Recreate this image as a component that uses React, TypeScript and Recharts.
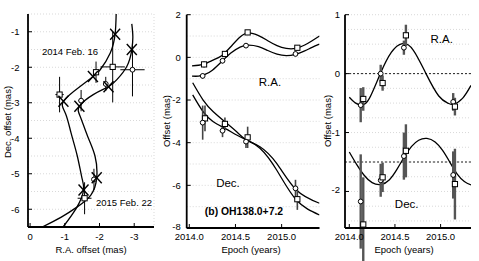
import { ComposedChart, Line, Scatter, XAxis, YAxis, CartesianGrid, ErrorBar, ReferenceLine } from 'recharts'

const FONT = '"Liberation Sans", Arial, Helvetica, sans-serif'

// ---------- left panel: positions on the sky (R.A. offset vs Dec. offset, mas)
const skyPathA = [
  { x: -2.48, y: -0.5 }, { x: -2.45, y: -1.06 }, { x: -2.31, y: -1.6 }, { x: -2.02, y: -2.07 },
  { x: -1.81, y: -2.27 }, { x: -1.44, y: -2.54 }, { x: -0.96, y: -2.96 }, { x: -1.02, y: -3.3 },
  { x: -1.18, y: -3.85 }, { x: -1.36, y: -4.5 }, { x: -1.49, y: -5.1 }, { x: -1.54, y: -5.46 },
  { x: -1.35, y: -5.94 }, { x: -0.95, y: -6.5 },
]
const skyPathB = [
  { x: -2.93, y: -0.78 }, { x: -2.96, y: -1.13 }, { x: -2.93, y: -1.51 }, { x: -2.79, y: -1.97 },
  { x: -2.5, y: -2.35 }, { x: -2.26, y: -2.55 }, { x: -1.82, y: -2.77 }, { x: -1.42, y: -3.1 },
  { x: -1.45, y: -3.4 }, { x: -1.66, y: -3.95 }, { x: -1.87, y: -4.5 }, { x: -1.92, y: -5.11 },
  { x: -1.75, y: -5.6 }, { x: -1.35, y: -5.94 }, { x: -0.9, y: -6.22 }, { x: -0.35, y: -6.5 },
]
const skySquares = [
  { x: -2.38, y: -1.99, ex: 0.35, ey: 1.0 },
  { x: -1.9, y: -2.14, ex: 0.08, ey: 0.3 },
  { x: -0.85, y: -2.77, ex: 0.12, ey: 0.5 },
  { x: -1.57, y: -5.69, ex: 0.2, ey: 0.45 },
]
const skyCircles = [
  { x: -2.95, y: -2.07, ex: 0.35, ey: 0.75 },
  { x: -2.18, y: -2.47, ex: 0.05, ey: 0.2 },
  { x: -1.47, y: -2.94, ex: 0.08, ey: 0.3 },
  { x: -1.84, y: -5.16, ex: 0.05, ey: 0.3 },
]
const skyCrosses = [
  { x: -2.45, y: -1.07 }, { x: -2.93, y: -1.5 }, { x: -1.81, y: -2.26 }, { x: -2.26, y: -2.55 },
  { x: -0.96, y: -2.96 }, { x: -1.42, y: -3.1 }, { x: -1.54, y: -5.46 }, { x: -1.92, y: -5.11 },
]
const skyXTicks = [0, -1, -2, -3]
const skyYTicks = [-6, -5, -4, -3, -2, -1]
const skyXMinor = [0, -0.5, -1, -1.5, -2, -2.5, -3, -3.5]
const skyYMinor = [-6.5, -6, -5.5, -5, -4.5, -4, -3.5, -3, -2.5, -2, -1.5, -1, -0.5]

// ---------- middle panel: offsets vs epoch with proper motion
const raFitSq = [
  { x: 2014.03, y: -0.4 }, { x: 2014.1, y: -0.37 }, { x: 2014.17, y: -0.3 }, { x: 2014.25, y: -0.14 },
  { x: 2014.35, y: 0.08 }, { x: 2014.45, y: 0.5 }, { x: 2014.55, y: 0.95 }, { x: 2014.64, y: 1.15 },
  { x: 2014.75, y: 1.02 }, { x: 2014.85, y: 0.78 }, { x: 2014.95, y: 0.55 }, { x: 2015.05, y: 0.42 },
  { x: 2015.15, y: 0.42 }, { x: 2015.25, y: 0.58 }, { x: 2015.33, y: 0.78 }, { x: 2015.41, y: 1.0 },
]
const raFitCi = [
  { x: 2014.03, y: -0.88 }, { x: 2014.1, y: -0.88 }, { x: 2014.17, y: -0.8 }, { x: 2014.25, y: -0.6 },
  { x: 2014.35, y: -0.2 }, { x: 2014.45, y: 0.2 }, { x: 2014.55, y: 0.48 }, { x: 2014.64, y: 0.57 },
  { x: 2014.75, y: 0.5 }, { x: 2014.85, y: 0.32 }, { x: 2014.95, y: 0.15 }, { x: 2015.05, y: 0.08 },
  { x: 2015.15, y: 0.14 }, { x: 2015.25, y: 0.3 }, { x: 2015.33, y: 0.47 }, { x: 2015.41, y: 0.62 },
]
const decFitA = [
  { x: 2014.037, y: -1.19 }, { x: 2014.15, y: -2.0 }, { x: 2014.26, y: -2.55 }, { x: 2014.386, y: -3.02 },
  { x: 2014.513, y: -3.49 }, { x: 2014.62, y: -3.87 }, { x: 2014.765, y: -4.19 }, { x: 2014.946, y: -4.97 },
  { x: 2015.16, y: -6.22 }, { x: 2015.41, y: -6.84 },
]
const decFitB = [
  { x: 2014.037, y: -1.76 }, { x: 2014.15, y: -2.55 }, { x: 2014.26, y: -3.02 }, { x: 2014.386, y: -3.33 },
  { x: 2014.513, y: -3.64 }, { x: 2014.62, y: -3.87 }, { x: 2014.765, y: -4.26 }, { x: 2014.946, y: -5.28 },
  { x: 2015.16, y: -6.69 }, { x: 2015.41, y: -7.39 },
]
const pmRaSquares = [
  { x: 2014.16, y: -0.33, ey: 0.15 }, { x: 2014.386, y: 0.16, ey: 0.12 },
  { x: 2014.632, y: 1.17, ey: 0.1 }, { x: 2015.17, y: 0.45, ey: 0.12 },
]
const pmRaCircles = [
  { x: 2014.145, y: -0.87, ey: 0.12 }, { x: 2014.36, y: -0.16, ey: 0.12 },
  { x: 2014.614, y: 0.55, ey: 0.08 }, { x: 2015.15, y: 0.16, ey: 0.1 },
]
const pmDecSquares = [
  { x: 2014.17, y: -2.86, ey: 0.6 }, { x: 2014.386, y: -3.12, ey: 0.3 },
  { x: 2014.632, y: -3.75, ey: 0.5 }, { x: 2015.17, y: -6.65, ey: 0.5 },
]
const pmDecCircles = [
  { x: 2014.145, y: -3.06, ey: 0.8 }, { x: 2014.36, y: -3.44, ey: 0.3 },
  { x: 2014.614, y: -3.95, ey: 0.3 }, { x: 2015.15, y: -6.14, ey: 0.4 },
]
const pmYTicks = [-8, -6, -4, -2, 0, 2]
const pmYMinor = [-8, -7, -6, -5, -4, -3, -2, -1, 0, 1, 2]

// ---------- right panel: parallax only
const plxRaFit = [
  { x: 2014.0, y: -0.4 }, { x: 2014.07, y: -0.5 }, { x: 2014.14, y: -0.53 }, { x: 2014.22, y: -0.42 },
  { x: 2014.34, y: 0.0 }, { x: 2014.46, y: 0.36 }, { x: 2014.58, y: 0.51 }, { x: 2014.7, y: 0.4 },
  { x: 2014.84, y: 0.0 }, { x: 2014.98, y: -0.38 }, { x: 2015.08, y: -0.5 }, { x: 2015.14, y: -0.52 },
  { x: 2015.24, y: -0.42 }, { x: 2015.333, y: -0.2 },
]
const plxDecFit = [
  { x: 2014.0, y: -1.33 }, { x: 2014.08, y: -1.54 }, { x: 2014.16, y: -1.72 }, { x: 2014.25, y: -1.85 },
  { x: 2014.35, y: -1.88 }, { x: 2014.44, y: -1.8 }, { x: 2014.52, y: -1.63 }, { x: 2014.6, y: -1.42 },
  { x: 2014.68, y: -1.24 }, { x: 2014.76, y: -1.13 }, { x: 2014.85, y: -1.1 }, { x: 2014.94, y: -1.16 },
  { x: 2015.02, y: -1.3 }, { x: 2015.1, y: -1.5 }, { x: 2015.18, y: -1.7 }, { x: 2015.26, y: -1.83 },
  { x: 2015.333, y: -1.89 },
]
const plxRaCircles = [
  { x: 2014.125, y: -0.535, ey: 0.29 }, { x: 2014.344, y: 0.0, ey: 0.15 },
  { x: 2014.598, y: 0.44, ey: 0.12 }, { x: 2015.138, y: -0.48, ey: 0.15 },
]
const plxRaSquares = [
  { x: 2014.153, y: -0.43, ey: 0.2 }, { x: 2014.365, y: -0.16, ey: 0.13 },
  { x: 2014.62, y: 0.65, ey: 0.18 }, { x: 2015.157, y: -0.56, ey: 0.15 },
]
const plxDecCircles = [
  { x: 2014.125, y: -2.17, ey: 0.8 }, { x: 2014.344, y: -1.81, ey: 0.28 },
  { x: 2014.598, y: -1.4, ey: 0.4 }, { x: 2015.138, y: -1.72, ey: 0.4 },
]
const plxDecSquares = [
  { x: 2014.153, y: -2.56, ey: 0.8 }, { x: 2014.365, y: -1.76, ey: 0.25 },
  { x: 2014.62, y: -1.31, ey: 0.45 }, { x: 2015.157, y: -1.875, ey: 0.6 },
]
const plxYTicks = [-2, -1, 0, 1]
const plxYMinor = [-2.5, -2.25, -2, -1.75, -1.5, -1.25, -1, -0.75, -0.5, -0.25, 0, 0.25, 0.5, 0.75, 1]
const plxRefLines = [0, -1.5]

const epochTicks = [2014.0, 2014.5, 2015.0]

const tickStyle = { fill: '#000', fontSize: 9.5, fontFamily: FONT }
const frame = { stroke: '#000', strokeWidth: 1.8 }
const tickLn = { stroke: '#000', strokeWidth: 1 }
const blank = () => ''

const Square = (p: any) => (
  <rect x={p.cx - 2.6} y={p.cy - 2.6} width={5.2} height={5.2} fill="#fff" stroke="#000" strokeWidth={1} />
)
const Circle = (p: any) => <circle cx={p.cx} cy={p.cy} r={2.4} fill="#fff" stroke="#000" strokeWidth={1} />
const Cross = (p: any) => (
  <g stroke="#000" strokeWidth={1.4}>
    <line x1={p.cx - 5} y1={p.cy - 5.5} x2={p.cx + 5} y2={p.cy + 5.5} />
    <line x1={p.cx - 5} y1={p.cy + 5.5} x2={p.cx + 5} y2={p.cy - 5.5} />
  </g>
)

// y tick label; the bottom one is lifted a little so it clears the epoch labels
const YTick = (p: any) => {
  const lift = p.index === 0 ? -1.5 : 0
  return (
    <text x={p.x} y={p.y + lift} dy="0.355em" textAnchor="end" fill="#000" fontSize={9.5} fontFamily={FONT}>
      {p.payload.value}
    </text>
  )
}

function fit(data: any[], key: string) {
  return (
    <Line key={key} data={data} dataKey="y" type="natural" stroke="#000" strokeWidth={1.3}
      dot={false} activeDot={false} isAnimationActive={false} />
  )
}

function SkyPanel() {
  const dom: [number, number] = [-3.57, 0.06]
  const ydom: [number, number] = [-6.5, -0.5]
  return (
    <ComposedChart width={160} height={261} margin={{ top: 14, right: 6, bottom: 0, left: 0 }}>
      <XAxis xAxisId="t" orientation="top" type="number" domain={dom} reversed allowDataOverflow
        ticks={skyXMinor} interval={0} height={0} tickSize={-3} tickFormatter={blank}
        axisLine={frame} tickLine={tickLn} />
      <YAxis yAxisId="r" orientation="right" type="number" domain={ydom} allowDataOverflow
        ticks={skyYMinor} interval={0} width={0} tickSize={-3} tickFormatter={blank}
        axisLine={frame} tickLine={tickLn} />
      <CartesianGrid xAxisId="t" yAxisId="r" stroke="#c8c8c8" strokeDasharray="1 2" strokeWidth={0.7} />
      <XAxis type="number" dataKey="x" domain={dom} reversed allowDataOverflow ticks={skyXTicks}
        interval={0} height={34} tickSize={-4} tickMargin={10} tick={tickStyle}
        axisLine={frame} tickLine={tickLn} />
      <YAxis type="number" dataKey="y" domain={ydom} allowDataOverflow ticks={skyYTicks}
        interval={0} width={28} tickSize={-4} tickMargin={12.5} tick={tickStyle}
        axisLine={frame} tickLine={tickLn} />
      {fit(skyPathA, 'a')}
      {fit(skyPathB, 'b')}
      <Scatter data={skySquares} shape={Square} isAnimationActive={false}>
        <ErrorBar dataKey="ey" direction="y" width={0} stroke="#000" strokeWidth={1} isAnimationActive={false} />
        <ErrorBar dataKey="ex" direction="x" width={0} stroke="#000" strokeWidth={1} isAnimationActive={false} />
      </Scatter>
      <Scatter data={skyCircles} shape={Circle} isAnimationActive={false}>
        <ErrorBar dataKey="ey" direction="y" width={0} stroke="#000" strokeWidth={1} isAnimationActive={false} />
        <ErrorBar dataKey="ex" direction="x" width={0} stroke="#000" strokeWidth={1} isAnimationActive={false} />
      </Scatter>
      <Scatter data={skyCrosses} shape={Cross} isAnimationActive={false} />
      <text x={70} y={54.5} textAnchor="middle" fontSize={9.5} fontFamily={FONT}>2014 Feb. 16</text>
      <text x={124} y={205.5} textAnchor="middle" fontSize={9.5} fontFamily={FONT}>2015 Feb. 22</text>
      <text x={91} y={253} textAnchor="middle" fontSize={9.5} fontFamily={FONT}>R.A. offset (mas)</text>
      <text x={7.5} y={122} transform="rotate(-90 7.5 122)" textAnchor="middle" dominantBaseline="central"
        fontSize={9.5} fontFamily={FONT}>Dec. offset (mas)</text>
    </ComposedChart>
  )
}

function EpochAxes(p: { xdom: [number, number]; ydom: [number, number]; yticks: number[]; minor: number[]; yw: number; ym: number }) {
  return [
    <XAxis key="xt" xAxisId="t" orientation="top" type="number" domain={p.xdom} allowDataOverflow
      ticks={epochTicks} interval={0} height={0} tickSize={-3} tickFormatter={blank}
      axisLine={frame} tickLine={tickLn} />,
    <YAxis key="yr" yAxisId="r" orientation="right" type="number" domain={p.ydom} allowDataOverflow
      ticks={p.minor} interval={0} width={0} tickSize={-3} tickFormatter={blank}
      axisLine={frame} tickLine={tickLn} />,
    <CartesianGrid key="g" xAxisId="t" yAxisId="r" vertical={false} stroke="#c8c8c8"
      strokeDasharray="1 2" strokeWidth={0.7} />,
    <XAxis key="xb" type="number" dataKey="x" domain={p.xdom} allowDataOverflow ticks={epochTicks}
      interval={0} height={33} tickSize={-4} tickMargin={9.5} tick={tickStyle}
      tickFormatter={(v: number) => v.toFixed(1)} axisLine={frame} tickLine={tickLn} />,
    <YAxis key="yl" type="number" dataKey="y" domain={p.ydom} allowDataOverflow ticks={p.yticks}
      interval={0} width={p.yw} tickSize={-4} tickMargin={p.ym} tick={YTick}
      axisLine={frame} tickLine={tickLn} />,
  ]
}

function points(data: any[], shape: any, key: string, bar: { stroke: string; w: number }) {
  return (
    <Scatter key={key} data={data} shape={shape} isAnimationActive={false}>
      <ErrorBar dataKey="ey" direction="y" width={0} stroke={bar.stroke} strokeWidth={bar.w} isAnimationActive={false} />
    </Scatter>
  )
}

function MotionPanel() {
  const thin = { stroke: '#000', w: 1 }
  const dec = { stroke: '#444', w: 1.6 }
  return (
    <ComposedChart width={162} height={261} margin={{ top: 14.7, right: 2.5, bottom: 0, left: 0 }}>
      {EpochAxes({ xdom: [2013.972, 2015.41], ydom: [-8, 2], yticks: pmYTicks, minor: pmYMinor, yw: 26.7, ym: 10 })}
      {fit(raFitSq, 'r1')}
      {fit(raFitCi, 'r2')}
      {fit(decFitA, 'd1')}
      {fit(decFitB, 'd2')}
      {points(pmRaSquares, Square, 's1', thin)}
      {points(pmRaCircles, Circle, 'c1', thin)}
      {points(pmDecSquares, Square, 's2', dec)}
      {points(pmDecCircles, Circle, 'c2', dec)}
      <text x={110} y={86} textAnchor="middle" fontSize={11.5} fontFamily={FONT}>R.A.</text>
      <text x={68} y={186.5} textAnchor="middle" fontSize={11.5} fontFamily={FONT}>Dec.</text>
      <text x={84} y={214.5} textAnchor="middle" fontSize={10.4} fontWeight="bold" fontFamily={FONT}>(b) OH138.0+7.2</text>
      <text x={91} y={252.5} textAnchor="middle" fontSize={9.5} fontFamily={FONT}>Epoch (years)</text>
      <text x={6} y={121} transform="rotate(-90 6 121)" textAnchor="middle" dominantBaseline="central"
        fontSize={9.5} fontFamily={FONT}>Offset (mas)</text>
    </ComposedChart>
  )
}

function ParallaxPanel() {
  const bar = { stroke: '#555', w: 2.4 }
  return (
    <ComposedChart width={159} height={261} margin={{ top: 14.7, right: 8, bottom: 0, left: 0 }}>
      {EpochAxes({ xdom: [2013.953, 2015.333], ydom: [-2.62, 1], yticks: plxYTicks, minor: plxYMinor, yw: 25, ym: 9 })}
      {plxRefLines.map((v) => (
        <ReferenceLine key={v} y={v} stroke="#222" strokeDasharray="2 2" strokeWidth={1} />
      ))}
      {fit(plxRaFit, 'r')}
      {fit(plxDecFit, 'd')}
      {points(plxRaCircles, Circle, 'c1', bar)}
      {points(plxRaSquares, Square, 's1', bar)}
      {points(plxDecCircles, Circle, 'c2', bar)}
      {points(plxDecSquares, Square, 's2', bar)}
      <text x={121.7} y={43} textAnchor="middle" fontSize={11.5} fontFamily={FONT}>R.A.</text>
      <text x={86.7} y={208} textAnchor="middle" fontSize={11.5} fontFamily={FONT}>Dec.</text>
      <text x={84} y={252.5} textAnchor="middle" fontSize={9.5} fontFamily={FONT}>Epoch (years)</text>
      <text x={7.3} y={121} transform="rotate(-90 7.3 121)" textAnchor="middle" dominantBaseline="central"
        fontSize={9.5} fontFamily={FONT}>Offset (mas)</text>
    </ComposedChart>
  )
}

export default function App() {
  return (
    <div style={{ position: 'absolute', left: 0, top: 0, width: 479, height: 261, background: '#fff', overflow: 'hidden' }}>
      <div style={{ position: 'absolute', left: 0, top: 0 }}><SkyPanel /></div>
      <div style={{ position: 'absolute', left: 160, top: 0 }}><MotionPanel /></div>
      <div style={{ position: 'absolute', left: 320, top: 0 }}><ParallaxPanel /></div>
    </div>
  )
}
